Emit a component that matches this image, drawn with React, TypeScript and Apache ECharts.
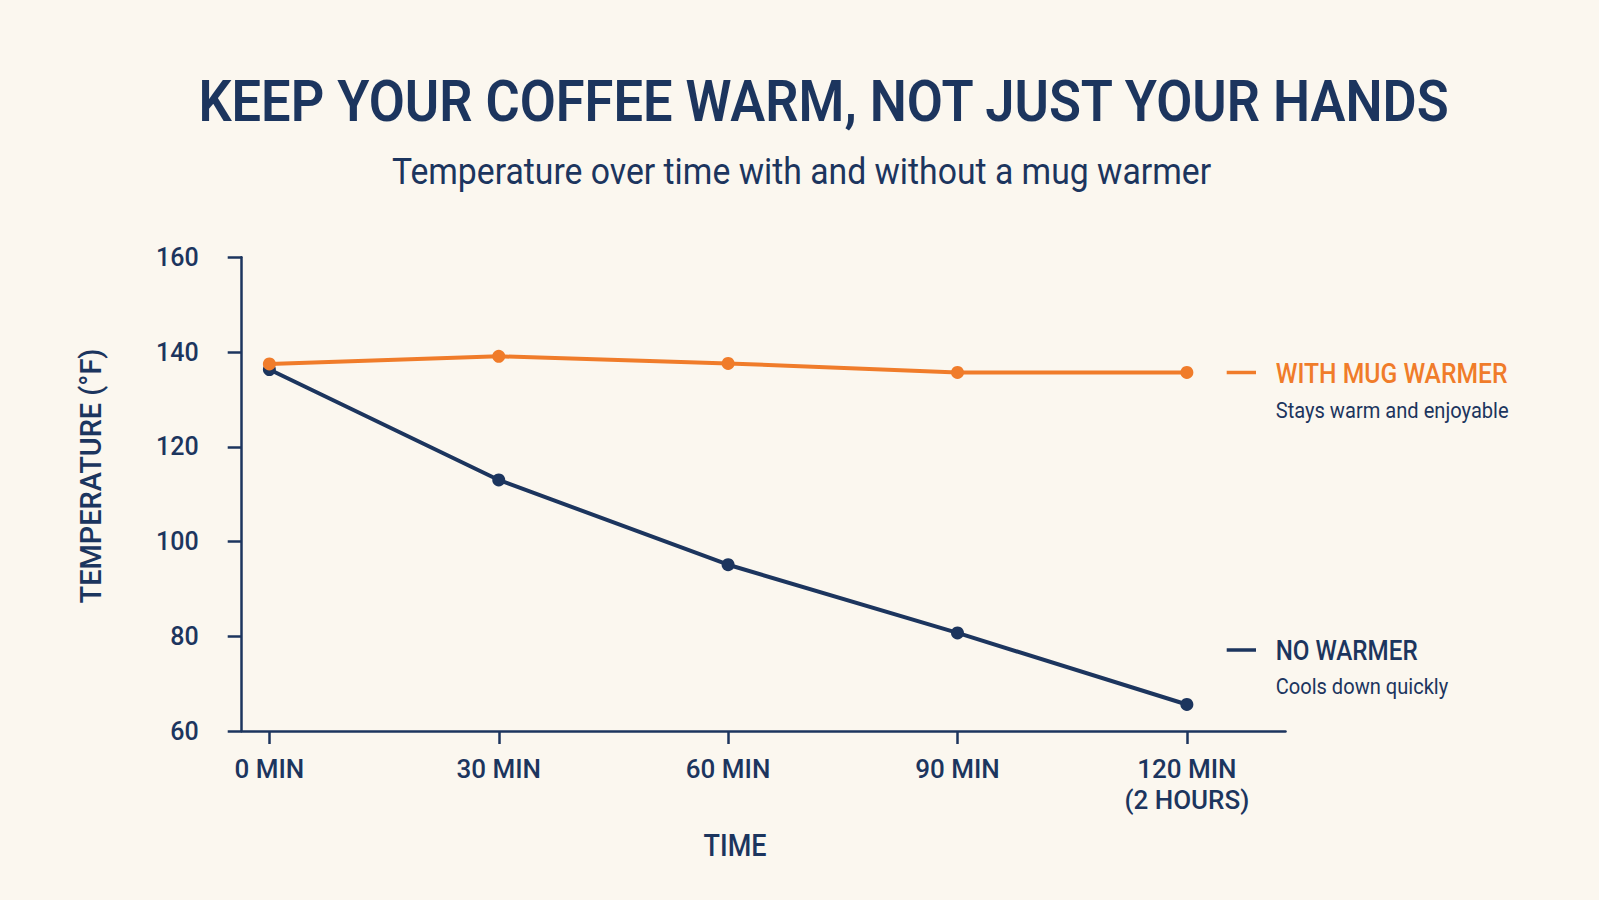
import React, { useEffect, useRef } from "react";
import * as echarts from "echarts";

const minutes = [0, 30, 60, 90, 120];
const tickLabels = ["0 MIN", "30 MIN", "60 MIN", "90 MIN", "120 MIN\n(2 HOURS)"];
const withWarmer = [137.5, 139.1, 137.6, 135.7, 135.7];
const noWarmer = [136.3, 113.0, 95.1, 80.7, 65.6];
const yTicks = { min: 60, max: 160, interval: 20 };

const NAVY = "#1c355e";
const ORANGE = "#f07c2a";
const BG = "#fbf7ef";
const FONT = "Roboto, 'Noto Sans', sans-serif";

function fitScale(text: string, weight: number, size: number, target: number) {
  const c = document.createElement("canvas");
  const ctx = c.getContext("2d");
  if (!ctx) return 1;
  ctx.font = `${weight} ${size}px Roboto`;
  const w = ctx.measureText(text).width;
  return w > 0 ? target / w : 1;
}

function txt(text: string, x: number, y: number, size: number, weight: number, color: string, target: number, align = "center", rotation = 0) {
  return {
    type: "text",
    x,
    y,
    rotation,
    scaleX: fitScale(text, weight, size, target),
    style: {
      text,
      fill: color,
      fontSize: size,
      fontWeight: weight,
      fontFamily: FONT,
      textAlign: align,
      textVerticalAlign: "middle",
    },
  };
}

export default function App() {
  const ref = useRef<HTMLDivElement>(null);
  useEffect(() => {
    if (!ref.current) return;
    const chart = echarts.init(ref.current, undefined, { renderer: "svg" });
    const option = {
      animation: false,
      backgroundColor: BG,
      grid: { left: 241.7, top: 257.3, width: 1043.8, height: 473.7, containLabel: false },
      xAxis: {
        type: "value",
        min: -3.62,
        max: 132.9,
        splitLine: { show: false },
        axisLine: { show: true, onZero: false, lineStyle: { color: NAVY, width: 2.5 } },
        axisTick: { show: true, length: 13, customValues: minutes, lineStyle: { color: NAVY, width: 2.5 } },
        axisLabel: {
          customValues: minutes,
          formatter: (v: number) => tickLabels[minutes.indexOf(v)] ?? "",
          color: NAVY,
          fontSize: 26,
          fontWeight: 500,
          fontFamily: FONT,
          lineHeight: 31,
          margin: 22,
        },
      },
      yAxis: {
        type: "value",
        min: yTicks.min,
        max: yTicks.max,
        interval: yTicks.interval,
        splitLine: { show: false },
        axisLine: { show: true, onZero: false, lineStyle: { color: NAVY, width: 2.5 } },
        axisTick: { show: true, length: 14, lineStyle: { color: NAVY, width: 2.5 } },
        axisLabel: { color: NAVY, fontSize: 25, fontWeight: 500, fontFamily: FONT, margin: 43 },
      },
      series: [
        {
          name: "No warmer",
          type: "line",
          data: minutes.map((m, i) => [m, noWarmer[i]]),
          symbol: "circle",
          symbolSize: 13,
          lineStyle: { color: NAVY, width: 4 },
          itemStyle: { color: NAVY },
        },
        {
          name: "With mug warmer",
          type: "line",
          data: minutes.map((m, i) => [m, withWarmer[i]]),
          symbol: "circle",
          symbolSize: 13,
          lineStyle: { color: ORANGE, width: 4 },
          itemStyle: { color: ORANGE },
        },
      ],
      graphic: [
        txt("KEEP YOUR COFFEE WARM, NOT JUST YOUR HANDS", 823.5, 101, 58, 600, NAVY, 1253),
        txt("Temperature over time with and without a mug warmer", 801.5, 171, 37, 400, NAVY, 820),
        txt("TEMPERATURE (°F)", 91, 476, 29, 500, NAVY, 255, "center", Math.PI / 2),
        txt("TIME", 735, 845.5, 32, 500, NAVY, 63),
        { type: "line", shape: { x1: 1226.7, y1: 372.5, x2: 1256, y2: 372.5 }, style: { stroke: ORANGE, lineWidth: 3.5 } },
        txt("WITH MUG WARMER", 1275.7, 374, 27, 500, ORANGE, 232, "left"),
        txt("Stays warm and enjoyable", 1275.7, 410.5, 22, 400, NAVY, 233, "left"),
        { type: "line", shape: { x1: 1226.7, y1: 650, x2: 1256, y2: 650 }, style: { stroke: NAVY, lineWidth: 3.5 } },
        txt("NO WARMER", 1275.7, 650.5, 28, 500, NAVY, 142, "left"),
        txt("Cools down quickly", 1275.7, 686, 22, 400, NAVY, 172.6, "left"),
      ],
    };
    chart.setOption(option as any);
    return () => chart.dispose();
  }, []);
  return (
    <div
      ref={ref}
      style={{ position: "fixed", left: 0, top: 0, width: 1599, height: 900, background: BG }}
    />
  );
}
